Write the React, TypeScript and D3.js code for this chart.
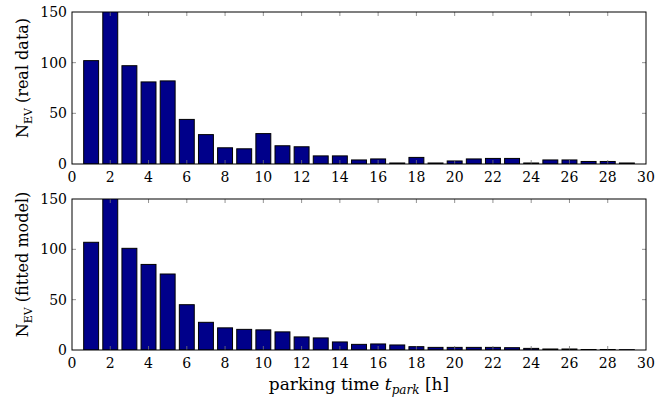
import React from 'react'
import * as d3 from 'd3'

// parking time bins (hours)
const hours = d3.range(1, 30)

// number of EVs per parking-time bin
const realData = [102, 155, 97, 81, 82, 44, 29, 16, 15, 30, 18, 17, 8, 8, 4, 5, 1, 6.5, 1, 3, 5, 5.5, 5.5, 1, 4, 4, 2.5, 2.5, 1]
const fittedModel = [107, 155, 101, 85, 75.5, 45, 27.5, 22, 20.5, 20, 18, 13, 12, 8, 5.6, 6, 5, 3.3, 2.6, 2.6, 2.6, 2.6, 2.3, 1.6, 1, 1, 0.5, 0.5, 0.3]

const xTicks = d3.range(0, 31, 2)
const yTicks = [0, 50, 100, 150]

const panels = [
  {id: 'real', label: '(real data)', values: realData, top: 12, bottom: 164},
  {id: 'fitted', label: '(fitted model)', values: fittedModel, top: 199, bottom: 350},
]

const layout = {width: 655, height: 405, left: 72, right: 646}
const serif = {fontFamily: "'DejaVu Serif', serif"}
const barColor = '#00008a'

const Panel = ({p}) => {
  const xScale = d3.scaleLinear().domain([0, 30]).range([layout.left, layout.right])
  const yScale = d3.scaleLinear().domain([0, 150]).range([p.bottom, p.top])
  const halfWidth = 0.39
  const tickLen = 4
  const midY = (p.top + p.bottom) / 2

  return (
    <g>
      <defs>
        <clipPath id={'clip-' + p.id}>
          <rect x={layout.left} y={p.top} width={layout.right - layout.left} height={p.bottom - p.top} />
        </clipPath>
      </defs>
      <g clipPath={`url(#clip-${p.id})`}>
        {p.values.map((v, i) => (
          <rect key={i}
            x={xScale(hours[i] - halfWidth)}
            y={yScale(v)}
            width={xScale(hours[i] + halfWidth) - xScale(hours[i] - halfWidth)}
            height={yScale(0) - yScale(v)}
            fill={barColor} stroke="#000" strokeWidth={1} />
        ))}
      </g>
      {/* ticks inside the box, mirrored on both sides */}
      <g stroke="#777" strokeWidth={0.8}>
        {xTicks.slice(1, -1).map(t => (
          <g key={t}>
            <line x1={xScale(t)} x2={xScale(t)} y1={p.bottom} y2={p.bottom - tickLen} />
            <line x1={xScale(t)} x2={xScale(t)} y1={p.top} y2={p.top + tickLen} />
          </g>
        ))}
        {yTicks.slice(1, -1).map(t => (
          <g key={t}>
            <line x1={layout.left} x2={layout.left + tickLen} y1={yScale(t)} y2={yScale(t)} />
            <line x1={layout.right} x2={layout.right - tickLen} y1={yScale(t)} y2={yScale(t)} />
          </g>
        ))}
      </g>
      <rect x={layout.left} y={p.top} width={layout.right - layout.left} height={p.bottom - p.top}
        fill="none" stroke="#000" strokeWidth={1} />
      <g style={serif} fontSize={14} fill="#000">
        {xTicks.map(t => (
          <text key={t} x={xScale(t)} y={p.bottom + 18} textAnchor="middle">{t}</text>
        ))}
        {yTicks.map(t => (
          <text key={t} x={layout.left - 5} y={yScale(t)} dy="0.35em" textAnchor="end">{t}</text>
        ))}
      </g>
      <text transform={`translate(28,${midY - 10}) rotate(-90)`} style={serif} fontSize={16} textAnchor="middle">
        N<tspan fontSize={11} dy={4}>EV</tspan><tspan dy={-4}> {p.label}</tspan>
      </text>
    </g>
  )
}

export default function App() {
  return (
    <div style={{position: 'absolute', left: 0, top: 0}}>
      <svg width={layout.width} height={layout.height} style={{display: 'block', background: '#fff'}}>
        {panels.map(p => <Panel key={p.id} p={p} />)}
        <text x={(layout.left + layout.right) / 2} y={390} style={serif} fontSize={17} textAnchor="middle">
          parking time <tspan fontStyle="italic">t</tspan><tspan fontStyle="italic" fontSize={12} dy={4}>park</tspan><tspan dy={-4}> [h]</tspan>
        </text>
      </svg>
    </div>
  )
}
